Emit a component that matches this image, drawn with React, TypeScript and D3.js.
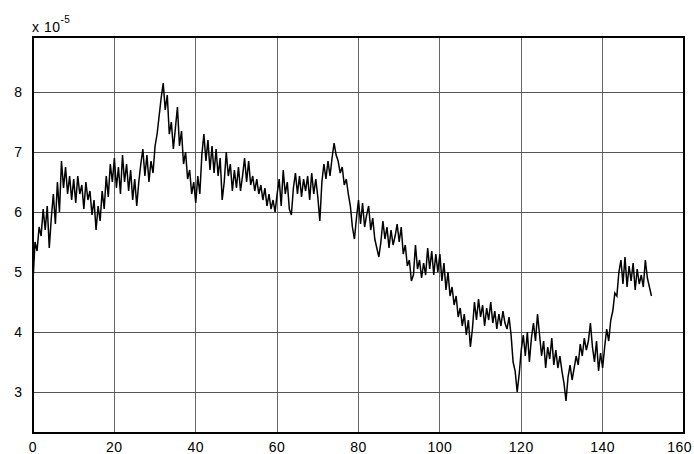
import React, { useEffect, useRef } from 'react';
import * as d3 from 'd3';

// time axis step is 0.5, starting at 0
const step = 0.5;
const values = [
  4.85, 5.5, 5.35, 5.75, 5.6, 6.05, 5.7, 6.1, 5.4, 5.9,
  6.3, 5.8, 6.5, 6.0, 6.85, 6.4, 6.75, 6.3, 6.6, 6.2,
  6.55, 6.15, 6.6, 6.3, 6.45, 6.05, 6.5, 6.2, 6.35, 5.95,
  6.2, 5.7, 6.1, 5.85, 6.35, 6.05, 6.6, 6.25, 6.8, 6.5,
  6.9, 6.4, 6.75, 6.3, 6.95, 6.5, 6.8, 6.35, 6.7, 6.2,
  6.55, 6.1, 6.5, 6.8, 7.05, 6.6, 6.95, 6.5, 6.85, 6.65,
  7.1, 7.3, 7.6, 7.9, 8.15, 7.7, 7.95, 7.3, 7.5, 7.05,
  7.4, 7.75, 7.1, 7.35, 6.8, 7.0, 6.55, 6.7, 6.3, 6.5,
  6.15, 6.6, 6.3, 6.95, 7.3, 6.85, 7.2, 6.7, 7.1, 6.65,
  7.05, 6.6, 6.9, 6.2, 6.5, 7.0, 6.6, 6.8, 6.35, 6.7,
  6.4, 6.75, 6.35, 6.6, 6.9, 6.5, 6.85, 6.45, 6.6, 6.35,
  6.55, 6.3, 6.45, 6.2, 6.4, 6.1, 6.3, 6.05, 6.2, 6.0,
  6.3, 6.55, 6.1, 6.7, 6.3, 6.5, 6.05, 5.95, 6.4, 6.65,
  6.3, 6.6, 6.25, 6.55, 6.35, 6.6, 6.2, 6.65, 6.3, 6.55,
  6.25, 5.85, 6.5, 6.8, 6.55, 6.85, 6.6, 6.9, 7.15, 6.95,
  6.85, 6.65, 6.75, 6.45, 6.55, 6.3, 6.1, 5.75, 5.55, 5.9,
  6.2, 5.8, 6.15, 5.75, 5.95, 6.1, 5.7, 5.9, 5.55, 5.4,
  5.25, 5.5, 5.85, 5.55, 5.75, 5.4, 5.7, 5.45, 5.6, 5.8,
  5.5, 5.75, 5.3, 5.45, 5.1, 5.2, 4.85, 4.95, 5.45, 5.05,
  5.2, 4.9, 5.15, 4.95, 5.4, 5.05, 5.35, 4.95, 5.3, 5.0,
  5.3, 4.85, 5.15, 4.7, 5.0, 4.6, 4.75, 4.45, 4.6, 4.25,
  4.4, 4.1, 4.3, 3.95, 4.2, 3.75, 4.05, 4.5, 4.2, 4.55,
  4.25, 4.45, 4.1, 4.4, 4.2, 4.5, 4.15, 4.35, 4.05, 4.3,
  4.1, 4.35, 4.15, 4.05, 4.25, 3.95, 3.5, 3.35, 3.0, 3.3,
  3.7, 3.95, 3.6, 4.0, 3.5, 3.9, 4.15, 3.85, 4.3, 3.95,
  3.6, 3.85, 3.4, 3.75, 3.55, 3.9, 3.45, 3.7, 3.4, 3.6,
  3.35, 3.15, 2.85, 3.25, 3.45, 3.2, 3.4, 3.6, 3.45, 3.8,
  3.6, 3.9, 3.7, 3.85, 4.15, 3.75, 3.5, 3.85, 3.35, 3.65,
  3.4, 3.75, 4.05, 3.85, 4.2, 4.35, 4.65, 4.6, 5.0, 5.2,
  4.8, 5.25, 4.75, 5.1, 4.85, 5.15, 4.7, 5.05, 4.8, 4.95,
  4.75, 5.2, 4.9, 4.75, 4.6,
];
const xTicks = [0, 20, 40, 60, 80, 100, 120, 140, 160];
const yTicks = [3, 4, 5, 6, 7, 8];

const App: React.FC = () => {
  const ref = useRef<SVGSVGElement>(null);

  useEffect(() => {
    const svg = d3.select(ref.current);
    svg.selectAll('*').remove();
    const font = 'Liberation Sans, Arial, sans-serif';

    const x = d3.scaleLinear().domain([0, 160]).range([33, 684]);
    const y = d3.scaleLinear().domain([2.317, 8.917]).range([433, 37]);

    // grid
    svg.append('g')
      .selectAll('line')
      .data(xTicks.slice(1, -1))
      .join('line')
      .attr('x1', d => x(d)).attr('x2', d => x(d))
      .attr('y1', y(8.917)).attr('y2', y(2.317))
      .attr('stroke', '#666').attr('stroke-width', 1)
      .attr('shape-rendering', 'crispEdges');
    svg.append('g')
      .selectAll('line')
      .data(yTicks)
      .join('line')
      .attr('x1', x(0)).attr('x2', x(160))
      .attr('y1', d => y(d)).attr('y2', d => y(d))
      .attr('stroke', '#555').attr('stroke-width', 1)
      .attr('shape-rendering', 'crispEdges');

    // data line
    const line = d3.line<number>()
      .x((_, i) => x(i * step))
      .y(d => y(d));
    svg.append('path')
      .datum(values)
      .attr('fill', 'none')
      .attr('stroke', '#000')
      .attr('stroke-width', 1.5)
      .attr('stroke-linejoin', 'miter')
      .attr('d', line);

    // frame
    svg.append('rect')
      .attr('x', x(0)).attr('y', y(8.917))
      .attr('width', x(160) - x(0)).attr('height', y(2.317) - y(8.917))
      .attr('fill', 'none').attr('stroke', '#000').attr('stroke-width', 1.2)
      .attr('shape-rendering', 'crispEdges');

    // tick labels (last one kept inside the page edge)
    svg.append('g')
      .selectAll('text')
      .data(xTicks)
      .join('text')
      .attr('x', d => (d === 160 ? 692 : x(d)))
      .attr('y', 452)
      .attr('text-anchor', d => (d === 160 ? 'end' : 'middle'))
      .attr('font-family', font)
      .attr('font-size', 14)
      .attr('letter-spacing', 0.5)
      .text(d => d);
    svg.append('g')
      .selectAll('text')
      .data(yTicks)
      .join('text')
      .attr('x', 22)
      .attr('y', d => y(d) + 5)
      .attr('text-anchor', 'end')
      .attr('font-family', font)
      .attr('font-size', 14)
      .text(d => d);

    // exponent label
    const ex = svg.append('text')
      .attr('x', 32).attr('y', 32)
      .attr('font-family', font)
      .attr('font-size', 14)
      .attr('letter-spacing', 0.5);
    ex.append('tspan').text('x 10');
    ex.append('tspan').attr('dy', -9).attr('font-size', 10).text('-5');
  }, []);

  return (
    <svg ref={ref} width={694} height={454}
      style={{ position: 'absolute', left: 0, top: 0, background: '#fff' }} />
  );
};

export default App;
